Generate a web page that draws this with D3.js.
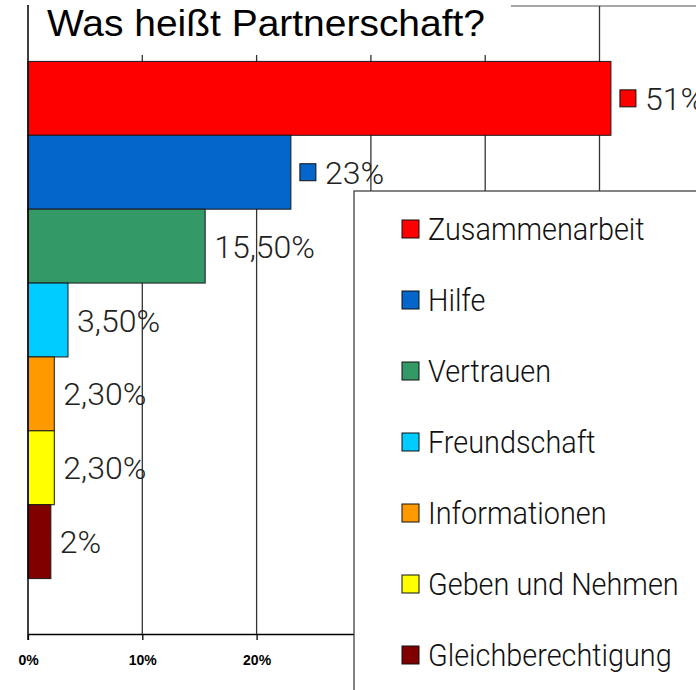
<!DOCTYPE html>
<html>
<head>
<meta charset="utf-8">
<script src="https://cdn.jsdelivr.net/npm/d3@7"></script>
<style>
  body { margin: 0; background: #fff; }
  svg { display: block; }
</style>
</head>
<body>
<svg id="chart" width="696" height="690"></svg>
<script>
// chart data
const categories = ['Zusammenarbeit', 'Hilfe', 'Vertrauen', 'Freundschaft', 'Informationen', 'Geben und Nehmen', 'Gleichberechtigung'];
const values = [51, 23, 15.5, 3.5, 2.3, 2.3, 2];
const valueLabels = ['51%', '23%', '15,50%', '3,50%', '2,30%', '2,30%', '2%'];
const showKey = [true, true, false, false, false, false, false];
const colors = ['#ff0000', '#0465cb', '#339966', '#00ccff', '#ff9900', '#ffff00', '#800000'];
const tickValues = [0, 10, 20, 30, 40, 50, 60];
const title = 'Was heißt Partnerschaft?';

let svg = d3.select('#chart');
let plot = {left: 28, top: 6, bottom: 634};

// shrink text horizontally, the original uses a narrow face
function squeeze(sel, factor) {
    sel.each(function() {
        let w = this.getComputedTextLength();
        d3.select(this).attr('textLength', w * factor).attr('lengthAdjust', 'spacingAndGlyphs');
    });
}

let xScale = d3.scaleLinear()
    .domain([0, 60])
    .range([plot.left, plot.left + 60 * 11.43]);
let yScale = d3.scaleBand()
    .domain(categories)
    .range([plot.top, plot.bottom])
    .paddingInner(0)
    .paddingOuter(0.75);

// plot frame top border
svg.append('line')
    .attr('x1', plot.left).attr('x2', 696)
    .attr('y1', plot.top).attr('y2', plot.top)
    .attr('stroke', '#8a8a8a').attr('stroke-width', 1.3);

// gridlines
svg.append('g').selectAll('line')
    .data(tickValues.slice(1))
    .enter().append('line')
    .attr('x1', d => xScale(d)).attr('x2', d => xScale(d))
    .attr('y1', plot.top).attr('y2', plot.bottom)
    .attr('stroke', '#333').attr('stroke-width', 1.3);

// bars
svg.append('g').selectAll('rect')
    .data(values)
    .enter().append('rect')
    .attr('x', xScale(0))
    .attr('y', (d, i) => yScale(categories[i]))
    .attr('width', d => xScale(d) - xScale(0))
    .attr('height', yScale.bandwidth())
    .attr('fill', (d, i) => colors[i])
    .attr('stroke', '#1a1a1a').attr('stroke-width', 1);

// x axis
let xAxis = svg.append('g')
    .attr('transform', `translate(0,${plot.bottom})`)
    .call(d3.axisBottom(xScale).tickValues(tickValues).tickFormat(d => d + '%').tickSize(6).tickSizeOuter(0));
xAxis.select('.domain').attr('stroke', '#000').attr('stroke-width', 1.5);
xAxis.selectAll('.tick line').attr('stroke', '#000').attr('stroke-width', 1.3);
// labels right of 20% sit under the legend, drop them
xAxis.selectAll('.tick text').filter(d => d > 20).remove();
xAxis.selectAll('.tick text')
    .attr('y', 21)
    .style('font-family', '"Liberation Sans", Arial, sans-serif')
    .style('font-size', '14px').style('font-weight', 'bold').attr('fill', '#000');

// left axis line
svg.append('line')
    .attr('x1', plot.left).attr('x2', plot.left)
    .attr('y1', plot.top - 1).attr('y2', plot.bottom + 6)
    .attr('stroke', '#000').attr('stroke-width', 1.5);

// value labels
let labels = svg.append('g').selectAll('g')
    .data(values)
    .enter().append('g')
    .attr('transform', (d, i) => `translate(${xScale(d) + 9},${yScale(categories[i]) + yScale.bandwidth() / 2})`);
labels.filter((d, i) => showKey[i]).append('rect')
    .attr('x', 0).attr('y', -8.5)
    .attr('width', 16).attr('height', 17)
    .attr('fill', d => colors[values.indexOf(d)])
    .attr('stroke', '#111').attr('stroke-width', 1);
labels.append('text')
    .attr('x', (d, i) => showKey[i] ? 25 : 0)
    .attr('dy', '0.36em')
    .style('font-family', 'Roboto, sans-serif').style('font-weight', 300)
    .style('font-size', '32px').attr('fill', '#222')
    .text((d, i) => valueLabels[i]);

// legend
let legend = svg.append('g').attr('transform', 'translate(354,191)');
legend.append('rect')
    .attr('x', 0).attr('y', 0).attr('width', 400).attr('height', 600)
    .attr('fill', '#fff').attr('stroke', '#333').attr('stroke-width', 1.2);
let items = legend.selectAll('.item')
    .data(categories)
    .enter().append('g')
    .attr('class', 'item')
    .attr('transform', (d, i) => `translate(48,${38 + i * 71})`);
items.append('rect')
    .attr('x', 0).attr('y', -9)
    .attr('width', 17).attr('height', 18)
    .attr('fill', (d, i) => colors[i])
    .attr('stroke', '#111').attr('stroke-width', 1);
items.append('text')
    .attr('x', 26).attr('dy', '0.36em')
    .style('font-family', 'Roboto, sans-serif').style('font-weight', 300)
    .style('font-size', '31px').attr('fill', '#111')
    .text(d => d)
    .call(squeeze, 0.93);

// title box
svg.append('rect')
    .attr('x', plot.left + 1).attr('y', 0)
    .attr('width', 482).attr('height', 55)
    .attr('fill', '#fff');
svg.append('text')
    .attr('x', 47).attr('y', 36)
    .style('font-family', '"Liberation Sans", Arial, sans-serif')
    .style('font-size', '36px').attr('fill', '#000')
    .attr('textLength', 438).attr('lengthAdjust', 'spacingAndGlyphs')
    .text(title);
</script>
</body>
</html>
